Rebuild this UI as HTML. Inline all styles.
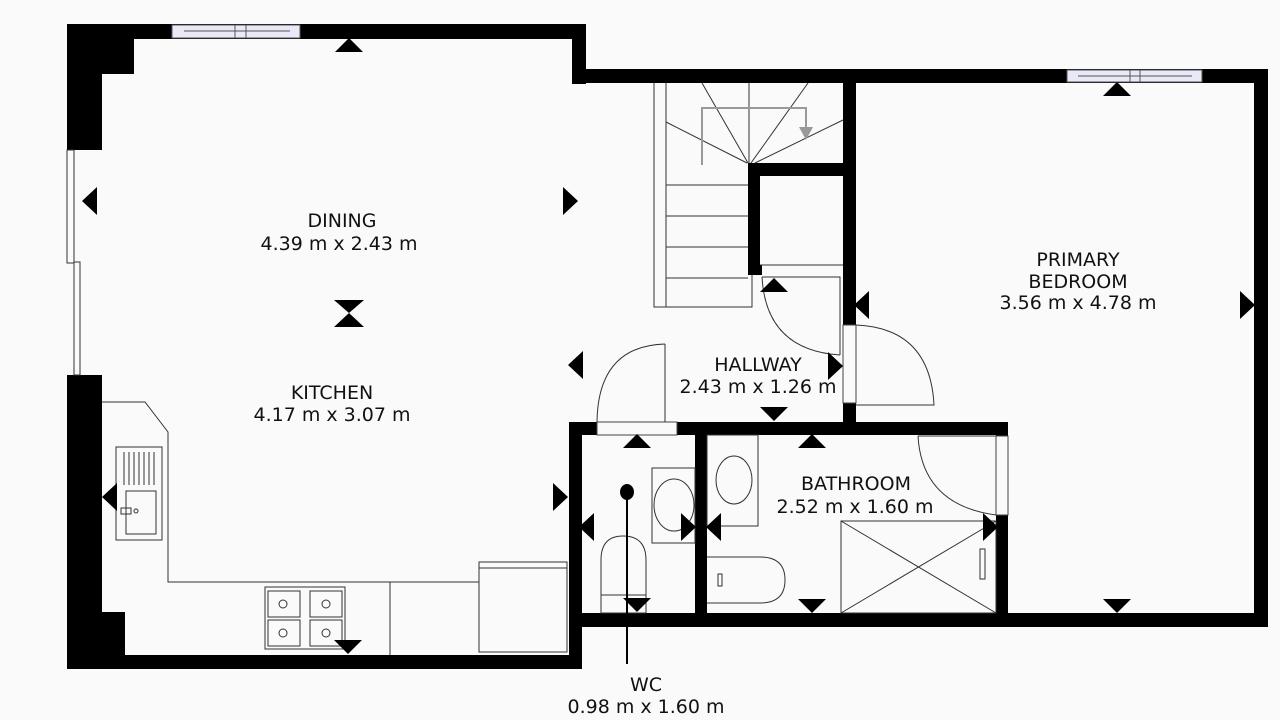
<!DOCTYPE html>
<html><head><meta charset="utf-8"><style>
html,body{margin:0;padding:0;background:#fafafa;}
svg{display:block;}
text{font-family:"DejaVu Sans","Liberation Sans",sans-serif;font-size:19px;fill:#111;text-anchor:middle;}
</style></head><body>
<svg width="1280" height="720" viewBox="0 0 1280 720" xmlns="http://www.w3.org/2000/svg">
<rect width="1280" height="720" fill="#fafafa"/>
<g fill="#000">
<rect x="67" y="24" width="518" height="15"/>
<rect x="572" y="24" width="14" height="60"/>
<rect x="572" y="69" width="696" height="14"/>
<rect x="67" y="24" width="35" height="126"/>
<rect x="102" y="24" width="32" height="50"/>
<rect x="67" y="375" width="35" height="293"/>
<rect x="102" y="612" width="23" height="45"/>
<rect x="67" y="655" width="515" height="14"/>
<rect x="569" y="422" width="13" height="247"/>
<rect x="569" y="422" width="439" height="13"/>
<rect x="569" y="613" width="699" height="14"/>
<rect x="695" y="422" width="12" height="205"/>
<rect x="996" y="422" width="12" height="14"/>
<rect x="996" y="515" width="12" height="112"/>
<rect x="1254" y="69" width="14" height="558"/>
<rect x="843" y="69" width="13" height="256"/>
<rect x="843" y="403" width="13" height="32"/>
<rect x="748" y="163" width="108" height="13"/>
<rect x="748" y="163" width="12" height="112"/>
<rect x="748" y="265" width="14" height="10"/>
</g>
<rect x="597" y="422" width="80" height="13" fill="#fafafa" stroke="#444" stroke-width="1"/>
<rect x="843" y="325" width="13" height="78" fill="#fafafa" stroke="#444" stroke-width="1"/>
<rect x="996" y="436" width="12" height="79" fill="#fafafa" stroke="#444" stroke-width="1"/>
<g fill="#e8e8f6" stroke="#555" stroke-width="1">
<rect x="172" y="25" width="128" height="13"/>
<line x1="184" y1="31" x2="290" y2="31"/>
<line x1="235" y1="25" x2="235" y2="38"/>
<line x1="246" y1="25" x2="246" y2="38"/>
<rect x="1067" y="70" width="135" height="12"/>
<line x1="1078" y1="76" x2="1192" y2="76"/>
<line x1="1130" y1="70" x2="1130" y2="82"/>
<line x1="1140" y1="70" x2="1140" y2="82"/>
</g>
<g fill="none" stroke="#333" stroke-width="1">
<rect x="67" y="150" width="7" height="113"/>
<rect x="74" y="262" width="6" height="113"/>
<path d="M654 83 V307 H752 V275"/>
<path d="M666 83 V307"/>
<path d="M666 185 H748 M666 216 H748 M666 247 H748 M666 278 H748"/>
<path d="M749 83 V163"/>
<path d="M702 83 L748 163 M808 83 L751 163 M666 122 L747 163 M843 120 L755 163"/>
<path d="M760 265 H843 M762 277 H840 V355"/>
<path d="M762 277 Q766 350 840 355"/>
<path d="M856 325 Q930 328 934 405 H856"/>
<path d="M665 344 V422 M597 422 Q598 346 665 344"/>
<path d="M918 436 H996 M918 436 Q922 505 996 515"/>
<path d="M102 402 H145 L168 432 V582 H479"/>
<rect x="116" y="447" width="46" height="93"/>
<rect x="126" y="491" width="30" height="43"/>
<path d="M124 452 V485 M129 452 V485 M134 452 V485 M139 452 V485 M144 452 V485 M149 452 V485 M154 452 V485"/>
<rect x="121" y="508" width="10" height="6"/><circle cx="136" cy="511" r="2"/>
<rect x="265" y="587" width="80" height="62"/>
<rect x="268" y="591" width="32" height="26"/><rect x="310" y="591" width="32" height="26"/>
<rect x="268" y="620" width="32" height="26"/><rect x="310" y="620" width="32" height="26"/>
<circle cx="283" cy="604" r="4"/><circle cx="326" cy="604" r="4"/><circle cx="283" cy="633" r="4"/><circle cx="326" cy="633" r="4"/>
<path d="M390 582 V655"/>
<rect x="479" y="562" width="88" height="90"/>
<line x1="479" y1="568" x2="567" y2="568"/>
<rect x="652" y="468" width="43" height="75"/>
<ellipse cx="674" cy="505" rx="20" ry="26"/>
<path d="M601 612 V560 Q601 536 623 536 Q646 536 646 560 V612"/>
<rect x="601" y="595" width="45" height="18"/>
<rect x="707" y="435" width="51" height="91"/>
<ellipse cx="734" cy="480" rx="18" ry="24"/>
<path d="M707 557 H760 Q785 557 785 580 Q785 603 760 603 H707"/>
<rect x="718" y="574" width="4" height="12"/>
<rect x="841" y="521" width="155" height="92"/>
<path d="M841 521 L996 613 M996 521 L841 613"/>
<rect x="980" y="549" width="5" height="30"/>
</g>
<path d="M702 165 V108 H806 V132" fill="none" stroke="#999" stroke-width="2"/>
<path d="M799 127 L806 140 L813 127 Z" fill="#999"/>
<line x1="627" y1="492" x2="627" y2="664" stroke="#000" stroke-width="2"/>
<ellipse cx="627" cy="492" rx="7" ry="8" fill="#000"/>
<g fill="#000">
<path d="M335 52 L349 38 L363 52Z"/>
<path d="M97 187 L82 201 L97 215Z"/>
<path d="M563 187 L578 201 L563 215Z"/>
<path d="M334 300 H364 L349 313 Z M334 327 H364 L349 313Z"/>
<path d="M583 351 L568 365 L583 379Z"/>
<path d="M553 483 L568 497 L553 511Z"/>
<path d="M117 483 L102 497 L117 511Z"/>
<path d="M334 640 H362 L348 654Z"/>
<path d="M623 448 L637 434 L651 448Z"/>
<path d="M594 513 L579 527 L594 541Z"/>
<path d="M681 513 L696 527 L681 541Z"/>
<path d="M623 598 H651 L637 612Z"/>
<path d="M760 292 L774 278 L788 292Z"/>
<path d="M828 352 L843 366 L828 380Z"/>
<path d="M869 291 L854 305 L869 319Z"/>
<path d="M760 407 H788 L774 421Z"/>
<path d="M798 448 L812 434 L826 448Z"/>
<path d="M721 513 L706 527 L721 541Z"/>
<path d="M798 599 H826 L812 613Z"/>
<path d="M983 513 L998 527 L983 541Z"/>
<path d="M1103 96 L1117 82 L1131 96Z"/>
<path d="M1240 291 L1255 305 L1240 319Z"/>
<path d="M1103 599 H1131 L1117 613Z"/>
</g>
<text x="342" y="227">DINING</text>
<text x="339" y="250">4.39 m x 2.43 m</text>
<text x="332" y="399">KITCHEN</text>
<text x="332" y="421">4.17 m x 3.07 m</text>
<text x="758" y="371">HALLWAY</text>
<text x="758" y="393">2.43 m x 1.26 m</text>
<text x="856" y="490">BATHROOM</text>
<text x="855" y="513">2.52 m x 1.60 m</text>
<text x="1078" y="266">PRIMARY</text>
<text x="1078" y="288">BEDROOM</text>
<text x="1078" y="309">3.56 m x 4.78 m</text>
<text x="646" y="691">WC</text>
<text x="646" y="713">0.98 m x 1.60 m</text>
</svg>
</body></html>
